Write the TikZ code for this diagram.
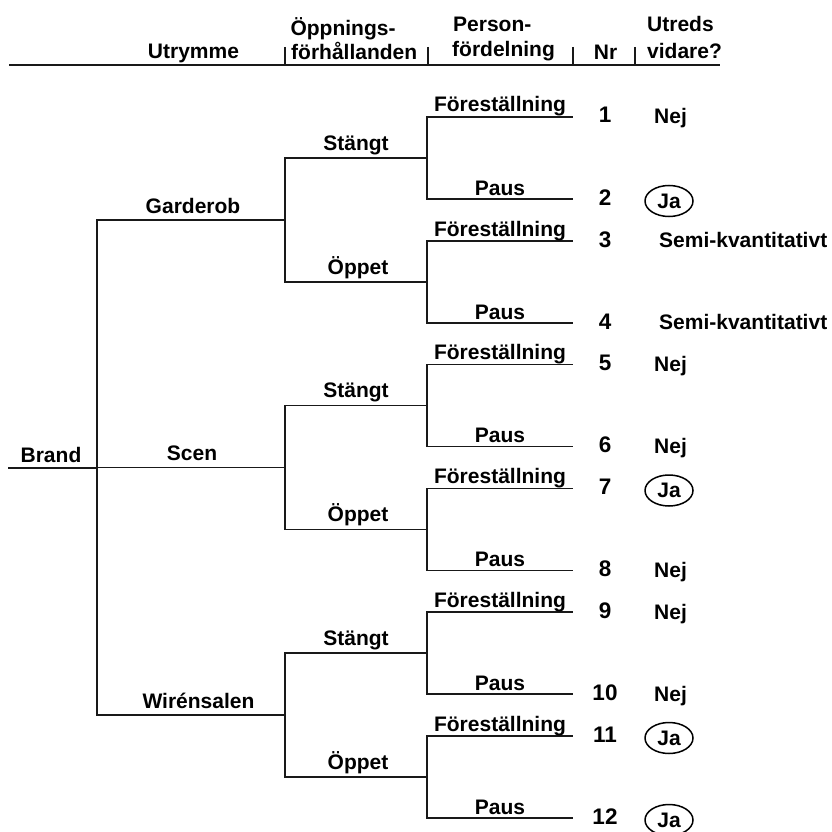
\documentclass[tikz,border=0pt]{standalone}
\usepackage{fontspec}
\setmainfont{Liberation Sans}
\usetikzlibrary{shapes.geometric}
\begin{document}
\begin{tikzpicture}[x=1pt,y=-1pt,
  tree/.style={line width=1.8pt, draw=black!90},
  hdr/.style={line width=2pt, draw=black!90},
  txt/.style={font=\fontsize{21}{25}\selectfont\bfseries, inner sep=0pt, text=black},
  lbl/.style={txt, anchor=base},
  lblw/.style={txt, anchor=base west},
  num/.style={txt, font=\fontsize{22.5}{26}\selectfont\bfseries, anchor=base},
  jabox/.style={txt, draw, ellipse, line width=1.5pt, minimum width=48pt, minimum height=31pt, inner sep=0pt}
]
\useasboundingbox (0,0) rectangle (831,832);

% header
\coordinate (h0) at (9,65);
\coordinate (h1) at (720,65);
\draw[hdr] (h0) -- (h1);
\foreach \k/\x in {1/285,2/428,3/573,4/635}{
  \coordinate (bt\k) at (\x,47);
  \coordinate (bb\k) at (\x,65);
  \draw[tree] (bt\k) -- (bb\k);
}
\node[lbl] (hUtr) at (193.5,59) {Utrymme};
\node[lbl] (hOpp1) at (343,36) {Öppnings-};
\node[lblw] (hOpp2) at (291,60) {förhållanden};
\node[lblw] (hPer1) at (453,32) {Person-};
\node[lblw] (hPer2) at (452,57) {fördelning};
\node[lbl] (hNr) at (605.5,60) {Nr};
\node[lblw] (hUt1) at (647,32) {Utreds};
\node[lblw] (hUt2) at (647,59) {vidare?};

% root
\coordinate (root) at (8,468);
\coordinate (trunk) at (97,468);
\draw[tree] (root) -- (trunk);
\node[lbl] (brand) at (51,462) {Brand};

% level 1
\foreach \i/\Y/\nm/\lx in {1/220/Garderob/193, 2/467.5/Scen/192, 3/715/Wirénsalen/198.5}{
  \coordinate (a\i) at (285,\Y);
  \draw[tree] (trunk) |- (a\i);
  \node[lbl] (la\i) at (\lx,\Y-7) {\nm};
}

% level 2
\foreach \j/\p/\Y/\nm/\lx in {1/a1/158/Stängt/356, 2/a1/282/Öppet/358,
                              3/a2/405.5/Stängt/356, 4/a2/529.5/Öppet/358,
                              5/a3/653/Stängt/356, 6/a3/777/Öppet/358}{
  \coordinate (b\j) at (427,\Y);
  \draw[tree] (\p) |- (b\j);
  \node[lbl] (lb\j) at (\lx,\Y-8) {\nm};
}

% level 3 (leaves)
\foreach \n/\p/\Y/\nm/\dy in {1/b1/117/Föreställning/5, 2/b1/199/Paus/4,
                              3/b2/241/Föreställning/5, 4/b2/323/Paus/4,
                              5/b3/364.5/Föreställning/5, 6/b3/446.5/Paus/4,
                              7/b4/488.5/Föreställning/5, 8/b4/570.5/Paus/4,
                              9/b5/612/Föreställning/5, 10/b5/694/Paus/4,
                              11/b6/736/Föreställning/5, 12/b6/818/Paus/4}{
  \coordinate (c\n) at (573,\Y);
  \draw[tree] (\p) |- (c\n);
  \node[lbl] (lc\n) at (500,\Y-\dy) {\nm};
  \node[num] (nr\n) at (605,\Y+6) {\n};
}

% answers
\foreach \n/\Y in {1/117, 5/364.5, 6/446.5, 8/570.5, 9/612, 10/694}{
  \node[lblw] (ans\n) at (654,\Y+7) {Nej};
}
\foreach \n/\Y in {3/241, 4/323}{
  \node[lblw] (ans\n) at (659,\Y+6) {Semi-kvantitativt};
}
\foreach \n/\Y in {2/199, 7/488.5, 11/736, 12/818}{
  \node[jabox] (ans\n) at (669,\Y+2) {Ja};
}
\end{tikzpicture}
\end{document}
